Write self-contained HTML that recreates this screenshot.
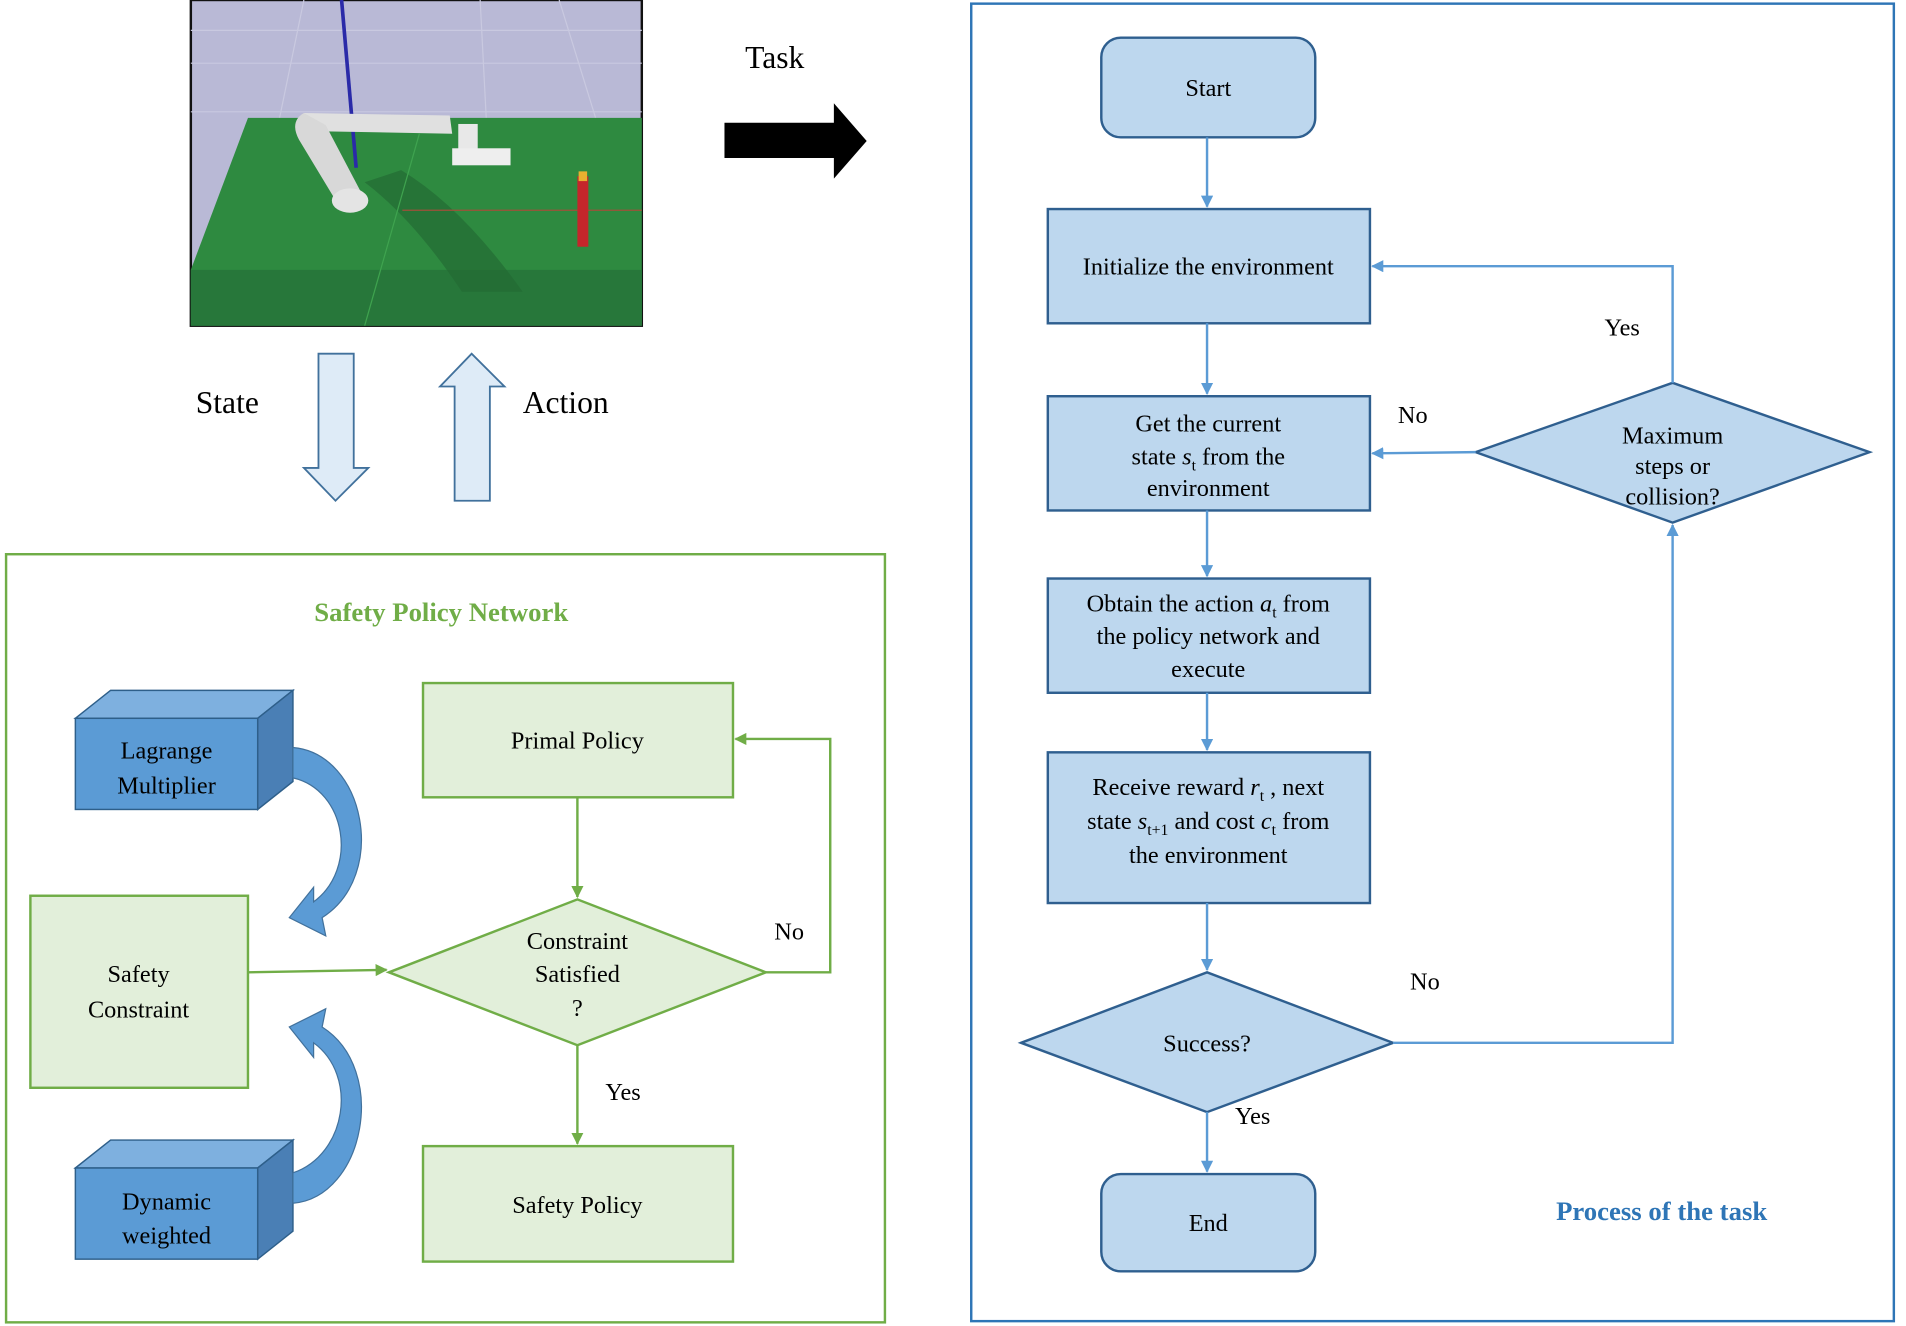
<!DOCTYPE html>
<html><head><meta charset="utf-8"><style>
html,body{margin:0;padding:0;background:#fff;}
svg{display:block;}
text{font-family:"Liberation Serif",serif;fill:#000;}
</style></head><body>
<svg width="1906" height="1326" viewBox="0 0 1568 1091" preserveAspectRatio="none" xmlns="http://www.w3.org/2000/svg">
<defs>
<marker id="bh" markerWidth="10" markerHeight="10" refX="9" refY="5" orient="auto" markerUnits="userSpaceOnUse"><path d="M0,0 L10,5 L0,10 Z" fill="#5b9bd5"/></marker>
<marker id="gh" markerWidth="10" markerHeight="10" refX="9" refY="5" orient="auto" markerUnits="userSpaceOnUse"><path d="M0,0 L10,5 L0,10 Z" fill="#70ad47"/></marker>
</defs>

<!-- Robot scene -->
<rect x="157" y="0" width="371" height="268" fill="#b9b9d6" stroke="#111" stroke-width="2"/>
<g stroke="#c9c9e0" stroke-width="1" fill="none">
<line x1="157" y1="25" x2="528" y2="25"/><line x1="157" y1="52" x2="528" y2="52"/><line x1="157" y1="92" x2="528" y2="92"/>
<line x1="250" y1="0" x2="230" y2="97"/><line x1="395" y1="0" x2="400" y2="97"/><line x1="460" y1="0" x2="490" y2="97"/>
</g>
<polygon points="204,97 528,97 528,268 157,268 157,222" fill="#2e8a40"/>
<polygon points="157,222 528,222 528,268 157,268" fill="#27773a"/>
<path d="M300,150 Q340,180 380,240 L430,240 Q380,170 330,140 Z" fill="#246b33" opacity="0.7"/>
<line x1="331" y1="173" x2="528" y2="173" stroke="#a0503a" stroke-width="1"/>
<line x1="345" y1="110" x2="300" y2="268" stroke="#3fa34f" stroke-width="1"/>
<line x1="331" y1="0" x2="343" y2="138" stroke="#2a2aa8" stroke-width="3" transform="translate(-50,0)"/>
<path d="M250,93 L370,95 L372,110 L262,108 Z" fill="#e0e0e0"/>
<path d="M250,93 Q238,100 246,115 L278,168 L298,160 L268,103 Z" fill="#d8d8d8"/>
<ellipse cx="288" cy="165" rx="15" ry="10" fill="#e4e4e4"/>
<rect x="377" y="102" width="16" height="28" fill="#e8e8e8"/>
<rect x="372" y="122" width="48" height="14" fill="#eeeeee"/>
<rect x="475" y="145" width="9" height="58" fill="#c4262b"/>
<rect x="476" y="141" width="7" height="8" fill="#e8b030"/>

<!-- Task arrow -->
<text x="613" y="56" font-size="26">Task</text>
<polygon points="596,101 686,101 686,85 713,116 686,147 686,130 596,130" fill="#000"/>

<!-- State / Action -->
<text x="161" y="340" font-size="26">State</text>
<text x="430" y="340" font-size="26">Action</text>
<polygon points="262,291 291,291 291,385 303,385 276,412 250,385 262,385" fill="#deebf7" stroke="#41719c" stroke-width="1.5"/>
<polygon points="374,412 403,412 403,318 415,318 388,291 362,318 374,318" fill="#deebf7" stroke="#41719c" stroke-width="1.5"/>

<!-- Left green panel -->
<rect x="5" y="456" width="723" height="632" fill="none" stroke="#70ad47" stroke-width="2"/>
<text x="363" y="511" font-size="22" font-weight="bold" text-anchor="middle" style="fill:#70ad47">Safety Policy Network</text>

<!-- 3D boxes -->
<g stroke="#2e5f8a" stroke-width="1.2">
<polygon points="62,591 91,568 241,568 212,591" fill="#7eb0df"/>
<polygon points="212,591 241,568 241,643 212,666" fill="#4a7fb5"/>
<rect x="62" y="591" width="150" height="75" fill="#5b9bd5"/>
<polygon points="62,961 91,938 241,938 212,961" fill="#7eb0df"/>
<polygon points="212,961 241,938 241,1013 212,1036" fill="#4a7fb5"/>
<rect x="62" y="961" width="150" height="75" fill="#5b9bd5"/>
</g>
<text x="137" y="624" font-size="20" text-anchor="middle">Lagrange</text>
<text x="137" y="653" font-size="20" text-anchor="middle">Multiplier</text>
<text x="137" y="995" font-size="20" text-anchor="middle">Dynamic</text>
<text x="137" y="1023" font-size="20" text-anchor="middle">weighted</text>

<!-- curved arrows -->
<path d="M241,615 C300,620 320,720 265,755 L268,770 L238,755 L258,730 L258,742 C295,715 285,650 241,640 Z" fill="#5b9bd5" stroke="#41719c" stroke-width="1"/>
<path d="M241,990 C300,985 320,880 265,845 L268,830 L238,845 L258,870 L258,858 C295,885 285,950 241,965 Z" fill="#5b9bd5" stroke="#41719c" stroke-width="1"/>

<!-- green boxes -->
<g fill="#e2efda" stroke="#70ad47" stroke-width="2">
<rect x="25" y="737" width="179" height="158"/>
<rect x="348" y="562" width="255" height="94"/>
<rect x="348" y="943" width="255" height="95"/>
<polygon points="320,800 475,740 630,800 475,860"/>
</g>
<text x="114" y="808" font-size="20" text-anchor="middle">Safety</text>
<text x="114" y="837" font-size="20" text-anchor="middle">Constraint</text>
<text x="475" y="616" font-size="20" text-anchor="middle">Primal Policy</text>
<text x="475" y="998" font-size="20" text-anchor="middle">Safety Policy</text>
<text x="475" y="781" font-size="20" text-anchor="middle">Constraint</text>
<text x="475" y="808" font-size="20" text-anchor="middle">Satisfied</text>
<text x="475" y="836" font-size="20" text-anchor="middle">?</text>
<g stroke="#70ad47" stroke-width="2" fill="none">
<line x1="475" y1="656" x2="475" y2="738" marker-end="url(#gh)"/>
<line x1="475" y1="860" x2="475" y2="941" marker-end="url(#gh)"/>
<line x1="204" y1="800" x2="318" y2="798" marker-end="url(#gh)"/>
<polyline points="630,800 683,800 683,608 605,608" marker-end="url(#gh)"/>
</g>
<text x="637" y="773" font-size="20">No</text>
<text x="498" y="905" font-size="20">Yes</text>

<!-- Right blue panel -->
<rect x="799" y="3" width="759" height="1084" fill="none" stroke="#2e75b6" stroke-width="2"/>
<g fill="#bdd7ee" stroke="#2f5f8f" stroke-width="2">
<rect x="906" y="31" width="176" height="82" rx="16"/>
<rect x="862" y="172" width="265" height="94"/>
<rect x="862" y="326" width="265" height="94"/>
<rect x="862" y="476" width="265" height="94"/>
<rect x="862" y="619" width="265" height="124"/>
<polygon points="840,858 993,800 1146,858 993,915"/>
<rect x="906" y="966" width="176" height="80" rx="16"/>
<polygon points="1214,372 1376,315 1538,372 1376,430"/>
</g>
<g font-size="20" text-anchor="middle">
<text x="994" y="79">Start</text>
<text x="994" y="226">Initialize the environment</text>
<text x="994" y="355">Get the current</text>
<text x="994" y="382">state <tspan font-style="italic">s</tspan><tspan font-size="13" dy="5">t</tspan><tspan dy="-5"> from the</tspan></text>
<text x="994" y="408">environment</text>
<text x="994" y="503">Obtain the action <tspan font-style="italic">a</tspan><tspan font-size="13" dy="5">t</tspan><tspan dy="-5"> from</tspan></text>
<text x="994" y="530">the policy network and</text>
<text x="994" y="557">execute</text>
<text x="994" y="654">Receive reward <tspan font-style="italic">r</tspan><tspan font-size="13" dy="5">t</tspan><tspan dy="-5"> , next</tspan></text>
<text x="994" y="682">state <tspan font-style="italic">s</tspan><tspan font-size="13" dy="5">t+1</tspan><tspan dy="-5"> and cost </tspan><tspan font-style="italic">c</tspan><tspan font-size="13" dy="5">t</tspan><tspan dy="-5"> from</tspan></text>
<text x="994" y="710">the environment</text>
<text x="993" y="865">Success?</text>
<text x="994" y="1013">End</text>
<text x="1376" y="365">Maximum</text>
<text x="1376" y="390">steps or</text>
<text x="1376" y="415">collision?</text>
</g>
<g stroke="#5b9bd5" stroke-width="2" fill="none">
<line x1="993" y1="113" x2="993" y2="170" marker-end="url(#bh)"/>
<line x1="993" y1="266" x2="993" y2="324" marker-end="url(#bh)"/>
<line x1="993" y1="420" x2="993" y2="474" marker-end="url(#bh)"/>
<line x1="993" y1="570" x2="993" y2="617" marker-end="url(#bh)"/>
<line x1="993" y1="743" x2="993" y2="798" marker-end="url(#bh)"/>
<line x1="993" y1="915" x2="993" y2="964" marker-end="url(#bh)"/>
<polyline points="1146,858 1376,858 1376,432" marker-end="url(#bh)"/>
<polyline points="1376,315 1376,219 1129,219" marker-end="url(#bh)"/>
<line x1="1214" y1="372" x2="1129" y2="373" marker-end="url(#bh)"/>
</g>
<g font-size="20">
<text x="1150" y="348">No</text>
<text x="1320" y="276">Yes</text>
<text x="1160" y="814">No</text>
<text x="1016" y="925">Yes</text>
</g>
<text x="1367" y="1004" font-size="22" font-weight="bold" text-anchor="middle" style="fill:#2e75b6">Process of the task</text>
</svg>
</body></html>
